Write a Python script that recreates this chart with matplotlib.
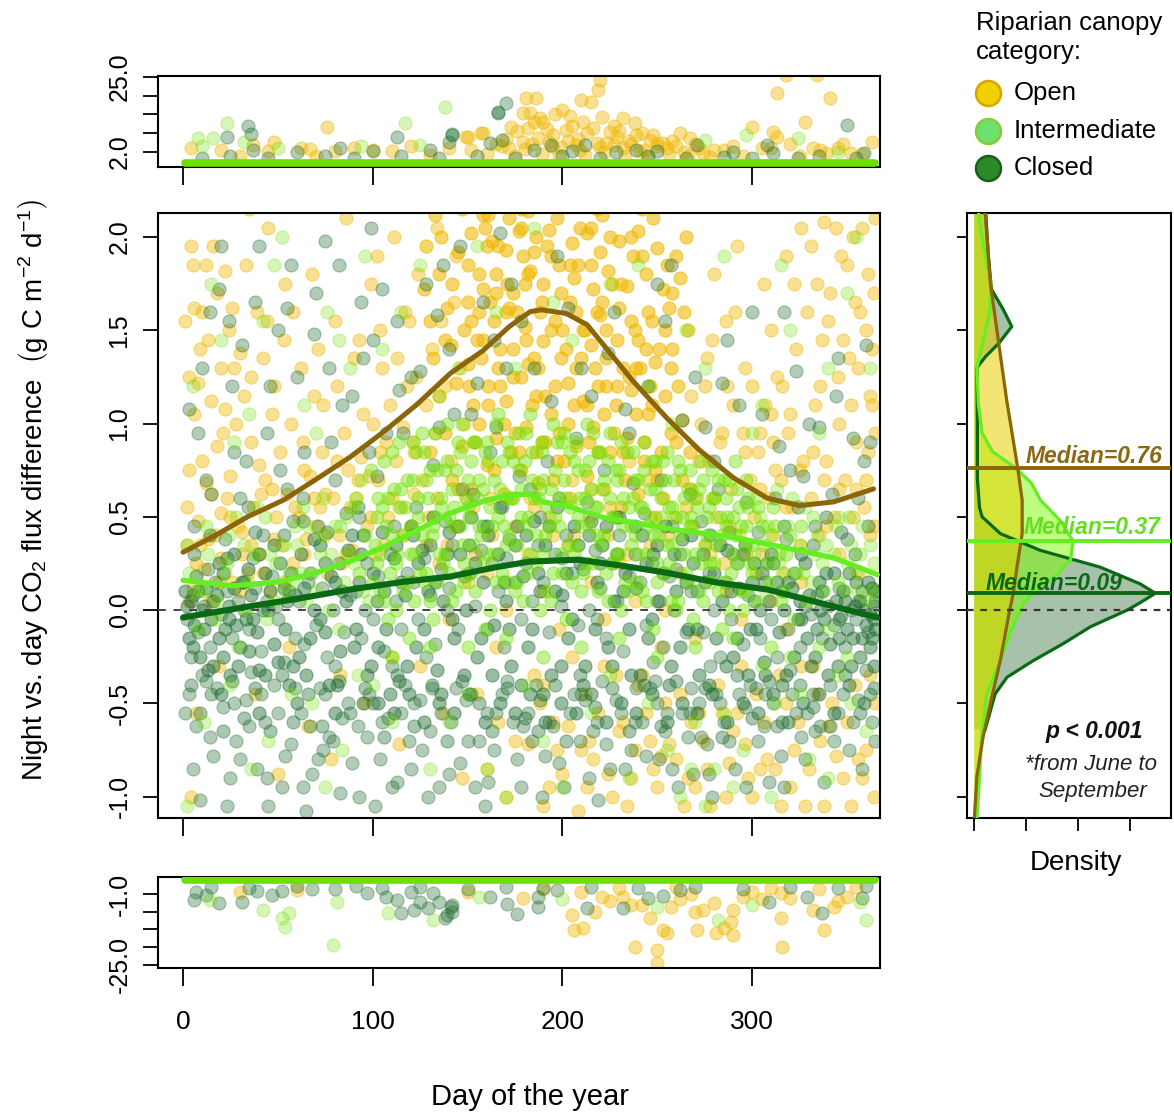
import numpy as np
import matplotlib
matplotlib.use('Agg')
import matplotlib.pyplot as plt
from matplotlib.lines import Line2D

plt.rcParams['font.family'] = ['Liberation Sans', 'DejaVu Sans']
plt.rcParams['mathtext.fontset'] = 'custom'
plt.rcParams['mathtext.rm'] = 'Liberation Sans'
plt.rcParams['mathtext.it'] = 'Liberation Sans:italic'
plt.rcParams['mathtext.bf'] = 'Liberation Sans:bold'

#-------------------------------------------------------------------------------
# data (day of year, flux difference)
closed_pts = [
    (2,-0.05),(5,0.08),(8,-0.12),(11,0.02),(14,-0.2),(17,0.15),(20,-0.02),(23,0.1),(26,-0.15),(29,0.05),(4,-0.25),(13,0.22),
    (3,-0.45),(7,-0.62),(12,-0.38),(16,-0.78),(21,-0.52),(25,-0.9),(28,-0.7),(9,-1.02),(6,0.45),(15,0.62),(22,0.38),(27,0.85),
    (3,1.08),(10,1.3),(19,1.72),(24,1.55),
    (32,0.0),(35,-0.1),(38,0.12),(41,-0.22),(44,0.05),(47,0.18),(50,-0.05),(53,-0.28),(56,0.1),(59,-0.15),(37,0.28),(49,0.02),
    (33,-0.48),(39,-0.85),(43,-0.6),(48,-0.4),(52,-0.95),(57,-0.72),(45,-1.05),(36,-0.33),(34,0.55),(42,0.4),(51,0.75),(58,0.48),
    (31,1.42),(40,1.95),(46,1.2),(55,1.62),
    (61,0.05),(64,-0.18),(67,0.2),(70,-0.08),(73,0.12),(76,-0.25),(79,0.0),(82,0.25),(85,-0.12),(88,0.08),(66,0.15),(80,-0.3),
    (62,-0.55),(68,-0.88),(72,-0.42),(77,-0.68),(83,-0.98),(87,-0.5),(74,-0.75),(65,-1.08),(63,0.6),(71,0.45),(78,0.9),(86,0.52),
    (60,1.25),(69,1.48),(75,1.98),(84,1.1),
    (91,0.1),(94,-0.15),(97,0.25),(100,-0.05),(103,0.18),(106,-0.22),(109,0.3),(112,0.05),(115,-0.1),(118,0.2),(96,0.0),(110,-0.3),
    (92,-0.62),(98,-0.45),(104,-0.8),(108,-0.58),(113,-0.92),(117,-0.4),(101,-1.05),(119,-0.7),(93,0.5),(102,0.72),(111,0.45),(116,0.95),
    (95,1.35),(105,1.72),(114,1.18),(99,2.05),
    (121,0.15),(124,-0.05),(127,0.28),(130,0.08),(133,-0.18),(136,0.22),(139,0.0),(142,0.35),(145,-0.1),(148,0.18),(128,-0.25),(140,0.12),
    (122,-0.5),(126,-0.75),(131,-0.42),(135,-0.95),(141,-0.6),(146,-0.82),(129,-1.0),(149,-0.48),(123,0.55),(132,0.78),(138,0.48),(147,0.65),
    (125,1.28),(134,1.58),(143,1.05),(137,1.85),
    (151,0.2),(154,0.02),(157,0.32),(160,-0.1),(163,0.25),(166,0.1),(169,-0.2),(172,0.38),(175,0.15),(178,-0.05),(158,0.45),(170,0.28),
    (152,-0.45),(156,-0.7),(161,-0.92),(165,-0.55),(171,-0.38),(176,-0.8),(159,-1.05),(179,-0.62),(153,0.62),(162,0.85),(168,0.55),(177,0.72),
    (155,1.22),(164,1.45),(173,1.75),(167,2.02),
    (181,0.25),(184,0.05),(187,0.35),(190,0.15),(193,-0.12),(196,0.3),(199,0.02),(202,0.4),(205,0.2),(208,-0.08),(188,0.5),(200,0.28),
    (182,-0.55),(186,-0.4),(191,-0.78),(195,-0.62),(201,-0.95),(206,-0.45),(189,-1.0),(209,-0.7),(183,0.65),(192,0.8),(198,0.6),(207,0.92),
    (185,1.3),(194,1.12),(203,1.62),(197,1.9),
    (211,0.22),(214,0.0),(217,0.32),(220,0.12),(223,-0.15),(226,0.25),(229,0.05),(232,-0.22),(235,0.18),(238,0.3),(218,-0.05),(230,0.4),
    (212,-0.48),(216,-0.65),(221,-0.38),(225,-0.85),(231,-0.55),(236,-0.75),(219,-1.02),(239,-0.42),(213,0.58),(222,0.75),(228,0.5),(237,0.68),
    (215,1.15),(224,1.38),(233,1.08),(227,1.6),
    (241,0.15),(244,-0.08),(247,0.25),(250,0.05),(253,-0.2),(256,0.18),(259,0.0),(262,0.3),(265,-0.12),(268,0.1),(248,-0.28),(260,0.22),
    (242,-0.6),(246,-0.42),(251,-0.8),(255,-0.55),(261,-0.95),(266,-0.68),(249,-0.38),(269,-0.88),(243,0.52),(252,0.7),(258,0.45),(267,0.62),
    (245,1.2),(254,1.55),(263,1.02),(257,1.85),
    (271,0.1),(274,-0.12),(277,0.2),(280,0.0),(283,-0.25),(286,0.15),(289,-0.05),(292,0.25),(295,-0.18),(298,0.08),(278,-0.3),(290,0.3),
    (272,-0.5),(276,-0.72),(281,-0.45),(285,-0.6),(291,-0.85),(296,-0.52),(279,-1.0),(299,-0.4),(273,0.48),(282,0.65),(288,0.42),(297,0.58),
    (275,0.98),(284,1.22),(293,1.1),(287,1.45),
    (301,0.05),(304,-0.15),(307,0.15),(310,-0.05),(313,-0.25),(316,0.1),(319,-0.1),(322,0.2),(325,-0.2),(328,0.02),(308,0.25),(320,-0.32),
    (302,-0.42),(306,-0.62),(311,-0.5),(315,-0.78),(321,-0.45),(326,-0.68),(309,-0.92),(329,-0.55),(303,0.42),(312,0.6),(318,0.38),(327,0.72),
    (305,1.05),(314,0.88),(323,1.28),(317,1.6),
    (331,-0.02),(334,0.08),(337,-0.15),(340,0.02),(343,-0.08),(346,0.12),(349,-0.2),(352,0.0),(355,-0.05),(358,0.1),(361,-0.12),(364,0.02),
    (362,-0.02),(356,0.05),(347,-0.03),(332,-0.45),(336,-0.62),(341,-0.4),(345,-0.55),(351,-0.75),(356,-0.48),(360,-0.32),(363,-0.6),
    (333,0.45),(342,0.62),(350,0.38),(359,0.8),(335,0.98),(344,1.15),(353,0.92),(360,1.42),
    (1,-0.55),(5,-0.85),(10,-0.35),(14,-0.68),(18,-0.42),(23,-1.05),(27,-0.5),(30,-0.8),(35,-0.62),(41,-0.45),(44,-0.9),(50,-0.55),
    (54,-0.78),(59,-0.42),(63,-0.95),(67,-0.62),(71,-0.8),(75,-0.45),(79,-0.7),(84,-0.58),(89,-0.82),(93,-1.0),(97,-0.68),(100,-0.5),
    (105,-0.6),(110,-0.95),(115,-0.55),(120,-0.85),(125,-0.48),(130,-0.65),(136,-0.55),(140,-0.88),(144,-0.42),(150,-0.7),(154,-0.95),
    (160,-0.55),(164,-0.75),(168,-0.45),(174,-0.6),(178,-0.95),(184,-0.7),(188,-0.48),(193,-0.6),(198,-0.82),(204,-0.55),(210,-0.45),
    (214,-0.9),(218,-0.6),(223,-0.72),(228,-0.48),(233,-0.85),(238,-0.6),(244,-0.78),(250,-0.5),(254,-0.65),(258,-0.85),(263,-0.55),
    (268,-0.42),(273,-0.68),(277,-0.88),(283,-0.5),(288,-0.7),(293,-0.45),(297,-0.95),(303,-0.7),(307,-0.45),(313,-0.62),(317,-0.95),
    (323,-0.55),(328,-0.8),(333,-0.65),(338,-0.92),(343,-0.7),(348,-0.45),(353,-0.6),(358,-0.85),(362,-0.45),(365,-0.7),
    (8,0.95),(14,1.6),(20,1.95),(26,1.2),(33,0.8),(38,1.65),(44,0.95),(50,1.5),(57,1.85),(64,0.85),(70,1.7),(77,1.3),(82,1.85),
    (89,1.15),(94,1.65),(100,1.45),(107,0.95),(113,1.55),(120,1.25),(128,1.75),(135,0.98),(140,1.4),(146,1.95),(152,1.05),(158,1.65),
    (165,0.98),(170,1.3),(178,1.55),(12,0.7),(30,0.6),(55,0.65),(80,0.7),(98,0.85),
    (210,1.3),(235,0.95),(250,1.75),(270,1.25),(300,1.6),(330,1.0),(345,1.35),(362,0.9),(280,0.8),(320,0.75),(356,0.6),
]
closed_core = [
    (1,0.1),(3,-0.15),(4,0.05),(6,-0.08),(7,0.18),(9,-0.25),(10,0.0),(12,0.12),(15,-0.05),(16,-0.3),(18,0.08),(19,-0.15),(21,0.2),
    (22,-0.1),(24,0.02),(25,-0.35),(27,0.12),(28,-0.08),(30,-0.2),(31,0.15),(33,-0.05),(34,0.22),(36,0.08),(39,-0.12),(40,0.3),(42,0.0),
    (43,-0.35),(46,0.1),(48,-0.18),(51,0.25),(54,-0.1),(55,0.05),(57,0.2),(58,-0.3),
    (62,0.3),(65,-0.35),(69,0.0),(72,0.35),(75,-0.12),(78,0.18),(81,-0.4),(84,0.1),(87,0.32),(90,-0.2),(93,0.15),(95,0.4),(99,-0.3),
    (102,0.05),(105,0.42),(107,-0.1),(111,0.28),(114,-0.38),(117,0.08),(120,0.45),(123,-0.2),(126,0.32),(129,0.1),(132,0.5),(134,-0.32),
    (137,0.05),(140,0.42),(143,-0.15),(146,0.3),(149,0.0),(152,0.5),(155,-0.25),(158,0.15),(161,0.4),(164,-0.08),(167,0.55),(170,0.05),
    (173,-0.3),(176,0.45),(179,0.18),(182,-0.2),(185,0.48),(188,0.1),(191,0.35),(194,-0.35),(197,0.55),(200,0.08),(203,-0.15),(206,0.45),
    (209,0.25),(212,-0.3),(215,0.48),(218,0.15),(221,0.35),(224,-0.2),(227,0.05),(230,0.5),(233,0.2),(236,-0.35),(239,0.12),(242,0.4),
    (245,-0.15),(248,0.3),(251,0.05),(254,0.45),(257,-0.3),(260,0.1),(263,0.38),(266,-0.1),(269,0.25),(272,-0.35),(275,0.15),(278,0.4),
    (281,-0.15),(284,0.05),(287,0.32),(290,-0.25),(293,0.12),(296,0.35),(299,-0.1),
    (300,0.15),(302,-0.1),(305,0.2),(306,-0.28),(309,0.05),(311,0.25),(314,-0.12),(317,0.0),(318,-0.35),(321,0.12),(324,-0.05),(326,0.3),
    (329,-0.15),(330,0.08),(333,-0.25),(335,0.15),(338,-0.05),(339,0.2),(341,-0.18),(344,0.05),(345,-0.3),(348,0.1),(350,-0.1),(351,0.2),
    (353,-0.15),(354,0.02),(357,-0.25),(359,0.0),(360,-0.08),(363,0.12),(365,-0.1),(365,0.05),(362,-0.2),(364,-0.05),
    (2,0.02),(5,-0.2),(8,0.1),(11,-0.1),(13,-0.32),(16,0.05),(19,0.25),(21,-0.25),(24,-0.05),(27,0.3),(29,-0.3),(32,0.15),(35,-0.22),
    (37,-0.05),(40,-0.32),(43,0.2),(45,0.0),(48,0.35),(50,-0.28),(53,0.12),(56,-0.4),(59,0.08),(61,-0.25),(64,0.12),(67,-0.15),(69,0.38),
    (72,-0.05),(75,0.25),(77,-0.4),(80,0.15),(83,-0.22),(86,0.05),(89,0.4),(91,-0.1),(94,0.3),(97,-0.35),(100,0.2),(103,-0.2),(106,0.1),
    (109,-0.45),(112,0.35),(115,0.15),(118,-0.3),(121,0.4),(124,0.25),(127,-0.1),(130,0.35),(133,0.15),(136,-0.45),(139,0.3),(142,-0.05),
    (145,0.45),(148,-0.35),(151,0.35),(154,0.25),(157,-0.15),(160,0.45),(163,-0.35),(166,0.3),(169,0.15),(172,-0.1),(175,0.35),(178,-0.4),
    (181,0.4),(184,-0.1),(187,0.2),(190,-0.45),(193,0.45),(196,0.1),(199,-0.3),(202,0.2),(205,-0.05),(208,0.35),(211,-0.4),(214,0.4),
    (217,-0.1),(220,0.25),(223,0.45),(226,-0.3),(229,0.3),(232,0.1),(235,-0.1),(238,0.45),(241,-0.35),(244,0.25),(247,-0.05),(250,0.35),
    (253,0.2),(256,-0.4),(259,0.3),(262,-0.2),(265,0.15),(268,0.4),(271,-0.1),(274,0.3),(277,-0.4),(280,0.2),(283,0.35),(286,-0.3),
    (289,0.1),(292,-0.15),(295,0.3),(298,-0.35),(301,0.25),(304,0.0),(307,-0.35),(310,0.3),(313,0.15),(316,-0.4),(319,0.15),(322,-0.25),
    (325,0.05),(328,0.25),(331,-0.3),(334,-0.1),(337,0.1),(340,-0.35),(343,0.2),(346,-0.15),(349,0.05),(352,-0.3),(355,0.15),(358,-0.15),
    (361,0.15),(364,-0.3),(365,0.1),(363,-0.15),(357,0.05),(346,-0.05),(336,0.0),(326,-0.05),
    (103,-0.5),(111,-0.55),(119,-0.45),(127,-0.6),(135,-0.5),(143,-0.55),(151,-0.45),(159,-0.6),(167,-0.5),(175,-0.55),(183,-0.45),
    (191,-0.6),(199,-0.5),(207,-0.55),(215,-0.45),(223,-0.6),(231,-0.5),(239,-0.55),(247,-0.45),(255,-0.6),(263,-0.5),(271,-0.55),
    (279,-0.45),(287,-0.6),(295,-0.5),(303,-0.55),(311,-0.45),(319,-0.6),(327,-0.5),(335,-0.45),(343,-0.55),(351,-0.4),(359,-0.5),
    (20,-0.45),(40,-0.55),(60,-0.5),(80,-0.55),(95,-0.5),
]
closed_more = [
    (4,-0.4),(9,-0.55),(15,-0.45),(21,-0.65),(26,-0.38),(32,-0.58),(38,-0.42),(46,-0.65),(52,-0.35),(58,-0.6),(66,-0.45),(73,-0.62),
    (82,-0.38),(88,-0.55),(96,-0.42),(106,-0.68),(113,-0.35),(122,-0.62),(131,-0.4),(139,-0.7),(147,-0.38),(156,-0.5),(163,-0.65),
    (171,-0.42),(180,-0.58),(187,-0.65),(196,-0.4),(202,-0.7),(209,-0.35),(217,-0.52),(226,-0.42),(235,-0.65),(243,-0.4),(252,-0.62),
    (260,-0.38),(267,-0.55),(275,-0.42),(284,-0.68),(292,-0.35),(300,-0.58),(309,-0.38),(316,-0.6),(325,-0.4),(332,-0.52),(341,-0.62),
    (349,-0.35),(357,-0.55),(364,-0.42),
    (6,0.3),(14,0.4),(23,0.28),(38,0.42),(53,0.4),(63,0.48),(76,0.42),(92,0.55),(317,0.45),(324,0.55),(332,0.35),(339,0.5),(347,0.42),
    (354,0.3),(361,0.45),
]
open_pts = [
    (2,0.35),(5,0.12),(8,0.48),(11,0.22),(14,0.05),(17,0.4),(20,0.28),(23,0.6),(26,0.15),(29,0.45),(3,1.25),(6,1.62),(9,1.4),(12,1.85),
    (15,1.12),(18,1.7),(21,0.95),(24,1.5),(27,1.3),(4,1.95),(10,0.8),(22,1.08),(7,-0.55),(19,-0.3),(4,-1.0),
    (31,0.42),(34,0.2),(37,0.55),(40,0.3),(43,0.7),(46,0.1),(49,0.5),(52,0.35),(55,0.62),(58,0.25),(32,1.15),(36,0.9),(39,1.6),(42,1.35),
    (45,2.05),(48,1.2),(51,0.85),(54,1.75),(57,1.0),(35,2.15),(38,-0.45),(50,-0.88),(56,-0.2),
    (61,0.5),(64,0.3),(67,0.72),(70,0.45),(73,0.85),(76,0.2),(79,0.6),(82,0.4),(85,0.95),(88,0.55),(62,1.3),(68,1.8),(74,1.1),(80,1.55),
    (86,2.1),(71,1.4),(66,-0.62),(83,-0.35),(78,-0.8),
    (91,0.6),(94,0.82),(97,0.45),(100,1.0),(103,0.7),(106,0.35),(109,1.1),(112,0.8),(115,0.55),(118,1.2),(93,1.45),(99,1.75),(105,1.3),
    (111,2.0),(117,1.6),(102,1.9),(96,-0.5),(110,-0.25),(114,-0.72),
    (121,0.9),(123,1.25),(126,0.7),(128,1.1),(131,1.4),(133,0.95),(136,1.55),(138,1.2),(141,0.8),(143,1.65),(146,1.3),(148,1.0),(124,1.8),
    (134,2.05),(144,1.9),(129,0.5),(139,0.35),(149,0.6),(125,-0.3),(137,-0.55),(147,-0.9),
    (155,-0.45),(165,-0.2),(175,-0.7),(170,-1.0),(153,0.55),(163,0.4),(173,0.6),(183,0.6),(193,0.5),(203,0.35),
    (185,-0.35),(195,-0.6),(200,-0.88),(205,-0.25),(190,-1.05),(210,-0.75),
    (214,0.5),(224,0.4),(234,0.3),(212,-0.45),(216,-0.8),(222,-0.3),(226,-1.0),(232,-0.6),(236,-0.9),(240,-0.4),
    (242,-0.35),(246,-0.7),(250,-0.95),(254,-0.5),(260,-0.8),(264,-1.05),(268,-0.6),(252,-0.2),(259,0.5),(269,0.45),
    (271,0.6),(273,1.0),(275,0.35),(277,0.8),(279,1.45),(281,0.5),(283,0.9),(285,0.25),(287,1.2),(289,0.65),(291,1.6),(293,0.4),(295,0.95),
    (297,0.3),(299,0.7),(280,1.8),(292,1.95),(272,-0.55),(276,-0.85),(282,-0.4),(286,-1.0),(290,-0.65),(294,-0.3),(298,-0.9),
    (301,0.5),(303,0.85),(305,0.3),(307,1.1),(309,0.6),(311,0.4),(313,1.25),(315,0.7),(317,0.2),(319,0.95),(321,0.55),(323,1.4),(325,0.35),
    (327,0.8),(329,1.6),(306,1.75),(318,1.9),(326,2.05),(302,-0.45),(308,-0.8),(314,-0.35),(320,-0.95),(324,-0.6),(328,-1.05),
    (331,0.6),(333,1.1),(335,0.4),(337,1.45),(339,0.8),(341,1.7),(343,0.5),(345,1.25),(347,1.9),(349,0.7),(351,1.35),(353,2.0),(355,0.9),
    (357,1.6),(359,0.55),(361,1.8),(363,1.1),(365,2.1),(338,2.08),(346,0.3),(356,0.2),(362,0.4),(332,-0.3),(336,-0.7),(342,-0.5),(348,-0.9),
    (354,-0.4),(360,-0.75),(364,-1.0),
    (1,1.55),(3,0.75),(5,1.85),(6,1.05),(8,1.22),(10,1.6),(12,0.68),(13,1.45),(16,1.95),(18,0.88),(20,1.3),(22,1.82),(25,0.72),(26,1.62),
    (28,1.0),(30,1.38),(33,1.85),(36,1.25),(40,0.78),(44,1.55),(47,1.05),(53,1.45),(58,1.6),(2,0.55),(9,0.35),(15,0.62),(20,0.52),(31,0.3),
    (41,0.62),(48,0.38),
    (331,1.95),(334,1.75),(336,1.2),(340,1.55),(344,2.05),(348,1.45),(350,1.85),(352,1.1),(354,1.65),(356,1.3),(358,2.05),(360,1.5),
    (362,1.15),(364,1.7),(365,0.95),(346,1.0),(338,0.7),(355,0.65),(361,0.85),(363,1.4),(310,1.5),(316,1.2),(322,1.75),(304,0.95),
    (312,0.75),(320,1.05),(296,1.3),(286,1.55),(276,1.35),(268,1.15),
    (63,0.9),(69,1.15),(75,0.62),(81,1.2),(87,0.75),(90,1.35),(95,1.05),(98,0.72),(104,1.5),(107,0.9),(113,1.35),(116,0.98),(119,1.55),
    (122,0.62),(65,0.38),(72,0.55),(84,0.25),(89,0.32),(101,0.3),(108,0.5),(120,0.45),
    (182,0.3),(190,0.1),(198,-0.1),(206,0.4),(215,0.15),(222,-0.05),(230,0.25),(238,0.05),(246,0.35),(254,0.0),(262,0.2),(270,-0.15),
    (278,0.3),(286,0.1),(294,-0.05),(302,0.2),(310,0.05),(318,-0.1),(326,0.15),(160,0.2),(170,0.0),(150,0.15),(140,-0.05),(135,0.25),
    (182,-0.72),(188,-0.5),(193,-0.95),(203,-0.62),(208,-1.08),(214,-0.7),(219,-0.55),(224,-0.88),(228,-0.35),(234,-1.05),(238,-0.75),
    (244,-0.55),(248,-0.85),(256,-0.72),(262,-0.45),(266,-0.9),(274,-0.7),(278,-1.05),(284,-0.55),(288,-0.82),(296,-0.72),(300,-1.0),
    (306,-0.6),(312,-0.85),(318,-0.5),(322,-0.75),(330,-0.85),(334,-0.45),(338,-1.05),(344,-0.78),(350,-0.6),(352,-1.05),(358,-0.9),
    (362,-0.35),(160,-0.85),(166,-0.6),
    (190,-0.4),(197,-0.75),(213,-0.95),(230,-0.65),(252,-0.78),(270,-0.95),(292,-0.55),(315,-1.05),(340,-0.62),(356,-0.8),(365,-0.5),
    (326,-0.3),(304,-0.85),
]
open_more = [
    (3,0.05),(7,0.25),(13,0.38),(19,0.15),(25,0.5),(30,0.1),(36,0.35),(42,0.2),(47,0.65),(53,0.15),(59,0.55),(64,0.75),(69,0.6),
    (75,0.4),(81,0.8),(86,0.3),(92,0.7),(99,0.5),(104,0.85),(110,0.6),(116,0.4),(122,0.85),(128,0.35),(134,0.6),(144,0.45),(154,0.3),
    (162,0.6),(175,0.45),(185,0.55),(195,0.4),(205,0.7),(215,0.65),(225,0.55),(235,0.8),(245,0.7),(255,0.4),(265,0.55),(272,0.8),
    (280,0.6),(288,0.45),(296,0.85),(304,0.65),(311,0.9),(318,0.55),(325,0.75),(332,0.85),(339,0.45),(346,0.65),(353,0.5),(360,0.7),
    (364,0.45),(300,1.2),(310,1.05),(290,1.1),(284,0.95),(275,1.2),
]
open_summer = [
    (151,1.2),(152,1.55),(154,0.9),(156,1.8),(157,1.35),(159,2.05),(161,1.1),(162,1.65),(164,0.75),(166,1.95),(167,1.4),(169,1.0),(171,1.75),
    (172,2.1),(174,1.25),(176,1.6),(177,0.85),(179,1.9),(158,2.12),(168,2.2),(178,2.15),
    (181,1.45),(182,1.8),(184,1.1),(186,2.0),(187,1.3),(189,1.65),(191,0.9),(192,1.95),(194,1.5),(196,1.2),(197,2.1),(199,1.7),(201,0.8),
    (202,1.4),(204,1.85),(206,1.1),(207,1.6),(209,2.05),(188,2.2),(198,2.18),(208,2.22),
    (211,1.5),(213,1.1),(215,1.85),(217,1.3),(219,0.85),(221,1.65),(223,1.2),(225,2.0),(227,0.95),(229,1.45),(231,1.75),(233,0.7),(235,1.25),
    (237,1.9),(239,1.05),(218,2.15),(228,2.2),
    (241,1.3),(243,0.9),(245,1.6),(247,1.1),(249,0.75),(251,1.4),(253,0.6),(255,1.85),(257,0.95),(261,1.2),(263,0.7),(265,2.0),
    (267,0.85),(248,2.1),(258,1.7),
    (126,2.18),(133,2.12),(140,2.2),(147,2.15),(154,2.18),(161,2.12),(175,2.2),(182,2.14),(191,2.2),(201,2.16),(211,2.2),(221,2.12),
    (233,2.18),(242,2.15),(251,2.2),
    (128,1.95),(136,2.0),(145,1.92),(152,2.02),(163,1.98),(170,1.93),(177,2.03),(185,1.92),(193,2.04),(205,1.97),(213,2.02),(220,1.92),
    (230,1.98),(240,2.03),(250,1.94),(260,1.9),
    (127,1.72),(135,1.8),(142,1.75),(150,1.85),(158,1.72),(165,1.8),(174,1.7),(183,1.82),(190,1.75),(198,1.85),(206,1.78),(216,1.72),
    (224,1.82),(234,1.74),(244,1.8),(253,1.72),(262,1.78),
    (130,1.55),(139,1.62),(148,1.5),(156,1.6),(164,1.55),(172,1.62),(180,1.52),(188,1.6),(196,1.55),(204,1.65),(212,1.5),(220,1.58),
    (230,1.62),(238,1.5),(247,1.55),(256,1.62),(266,1.5),
    (132,1.35),(141,1.42),(150,1.32),(158,1.45),(166,1.3),(174,1.4),(182,1.32),(190,1.44),(199,1.35),(207,1.3),(215,1.42),(223,1.35),
    (232,1.3),(240,1.45),(249,1.33),(258,1.4),
    (135,1.15),(144,1.22),(153,1.1),(161,1.2),(170,1.12),(178,1.25),(186,1.15),(194,1.05),(203,1.22),(211,1.12),(219,1.2),(228,1.1),
    (236,1.18),(245,1.05),(254,1.15),(263,1.02),
    (138,0.95),(147,0.88),(156,1.0),(165,0.92),(173,0.85),(181,0.98),(189,0.9),(198,0.95),(207,0.88),(216,0.98),(225,0.85),(234,0.92),
    (243,0.8),(252,0.85),
    (142,0.7),(152,0.65),(160,0.78),(169,0.62),(178,0.75),(187,0.68),(195,0.7),(204,0.6),(213,0.72),(222,0.65),(231,0.55),(240,0.62),(249,0.5),
    (130,0.85),(138,1.45),(145,0.65),(155,1.45),(160,1.95),(167,1.2),(170,1.6),(175,0.95),(180,1.75),(185,1.35),(191,1.15),(194,1.9),
    (197,0.8),(200,1.5),(203,1.0),(208,1.85),(210,1.35),(214,0.9),(218,1.6),(222,1.05),(226,1.75),(229,1.2),(232,0.85),(236,1.55),
    (239,1.3),(242,1.9),(246,1.2),(250,0.7),(254,1.5),(257,1.3),(260,0.9),(264,1.6),(268,0.65),(150,1.65),(165,1.7),(178,2.05),(186,0.85),
    (215,2.05),(223,1.5),(236,2.0),(244,1.4),
]
inter_pts = [
    (3,0.2),(8,-0.1),(13,0.3),(18,0.05),(24,0.4),(29,-0.2),(34,0.15),(39,0.55),(44,-0.05),(49,0.25),(54,0.1),(59,0.45),
    (5,1.2),(15,1.75),(27,0.9),(42,1.55),(52,2.0),(11,-0.6),(36,-0.85),(57,-0.45),(2,-1.05),
    (62,0.2),(66,0.45),(70,0.1),(74,0.6),(78,0.3),(82,-0.1),(86,0.5),(90,0.25),(94,0.7),(98,0.05),
    (64,1.1),(76,1.6),(88,1.3),(96,1.9),(68,-0.5),(84,-0.75),(92,-0.35),
    (105,1.4),(125,1.85),(145,1.3),(165,1.6),(185,2.05),(205,1.45),(225,1.75),(245,1.2),(265,1.5),(285,1.9),(110,-0.6),(130,-0.85),
    (150,-0.45),(170,-1.0),(190,-0.7),(215,-0.55),(235,-0.9),(255,-0.75),(262,-1.0),(270,-0.6),(280,-0.85),(290,-0.95),(275,-1.05),
    (301,0.3),(304,0.5),(307,0.1),(310,0.4),(313,0.65),(316,0.2),(319,0.45),(322,-0.05),(325,0.35),(328,0.55),(331,0.15),(334,0.4),
    (337,0.25),(340,-0.1),(343,0.3),(346,0.5),(349,0.1),(352,0.35),(355,0.2),(358,0.45),(361,0.05),(364,0.25),
    (305,1.1),(320,1.5),(335,0.95),(350,1.7),(362,1.3),(312,-0.5),(330,-0.8),(345,-0.35),(360,-0.65),
    (60,0.35),(65,0.05),(72,0.3),(80,0.45),(85,0.15),(11,0.1),(22,0.2),(32,0.35),(46,0.3),(56,0.2),(333,0.3),(338,0.1),(344,0.45),
    (350,0.25),(356,0.1),(362,0.35),
    (20,1.45),(35,1.05),(48,1.85),(70,0.95),(82,1.45),(115,1.6),(135,1.15),(155,1.95),(175,1.3),(195,1.65),(240,1.85),(258,1.0),
    (275,1.3),(300,0.95),(315,1.85),(340,1.3),(355,2.0),(25,-0.4),(45,-0.7),(75,-0.95),(100,-0.4),(140,-0.6),(160,-0.85),(180,-0.4),
    (200,-0.95),(225,-0.35),(245,-0.5),(268,-0.85),(285,-0.55),(295,-0.75),(310,-1.0),(325,-0.45),(340,-0.9),(352,-0.5),
]
inter_more = [
    (2,0.35),(7,0.1),(12,0.45),(17,-0.05),(23,0.25),(28,0.5),(33,0.0),(38,0.3),(43,0.5),(48,0.05),(53,0.35),(58,0.15),(63,0.55),
    (68,0.2),(73,0.4),(77,0.0),(83,0.45),(87,0.3),(91,0.6),(95,0.1),(302,0.6),(308,0.45),(314,0.25),(321,0.6),(327,0.2),(332,0.5),
    (339,0.35),(345,0.15),(351,0.5),(357,0.3),(363,0.1),(305,-0.3),(320,-0.25),(335,-0.2),(350,-0.25),
]
inter_core = [
    (101,0.35),(103,0.6),(104,0.1),(106,0.8),(107,0.45),(109,0.2),(111,0.65),(112,0.0),(114,0.9),(116,0.4),(117,0.55),(119,-0.15),
    (121,0.7),(122,0.3),(124,0.5),(126,0.95),(127,0.15),(129,0.6),(131,0.4),(132,-0.05),(134,0.75),(136,0.55),(137,0.25),(139,1.0),
    (141,0.45),(142,0.65),(144,0.1),(146,0.85),(147,0.35),(149,0.6),(151,0.5),(152,0.2),(154,0.9),(156,0.7),(157,0.4),(159,-0.1),
    (161,0.8),(162,0.55),(164,0.3),(166,1.05),(167,0.65),(169,0.45),(171,0.15),(172,0.85),(174,0.6),(176,0.35),(177,0.75),(179,0.05),
    (181,0.95),(182,0.5),(184,0.7),(186,0.25),(187,0.6),(189,0.85),(191,0.4),(192,0.1),(194,0.65),(196,0.5),(197,0.9),(199,0.3),
    (201,0.7),(202,-0.05),(204,0.55),(206,0.8),(207,0.35),(209,0.6),(211,0.2),(212,0.75),(214,0.45),(216,0.95),(217,0.55),(219,0.1),
    (221,0.65),(222,0.4),(224,0.8),(226,0.25),(227,0.5),(229,0.7),(231,0.0),(232,0.45),(234,0.85),(236,0.35),(237,0.6),(239,0.15),
    (241,0.55),(243,0.75),(244,0.3),(246,0.5),(248,-0.1),(249,0.65),(251,0.4),(253,0.8),(254,0.2),(256,0.55),(258,0.35),(259,0.7),
    (261,0.05),(263,0.5),(264,0.3),(266,0.65),(268,0.45),(269,-0.05),(271,0.55),(273,0.25),(274,0.7),(276,0.4),(278,0.15),(279,0.6),
    (281,0.35),(283,0.5),(284,-0.1),(286,0.45),(288,0.7),(289,0.2),(291,0.4),(293,0.55),(294,0.1),(296,0.35),(298,0.6),(299,0.25),
    (90,0.55),(93,0.2),(96,0.4),(99,0.75),(102,0.25),(105,0.55),(108,-0.05),(110,0.85),(113,0.3),(115,0.65),(118,0.15),(120,0.45),
    (123,0.85),(125,0.2),(128,0.7),(130,0.05),(133,0.5),(135,0.3),(138,0.75),(140,0.2),(143,0.55),(145,0.9),(148,0.15),(150,0.7),
    (153,0.35),(155,0.6),(158,0.25),(160,0.9),(163,0.45),(165,0.15),(168,0.8),(170,0.35),(173,0.6),(175,0.1),(178,0.5),(180,0.8),
    (183,0.3),(185,0.6),(188,0.0),(190,0.7),(193,0.45),(195,0.2),(198,0.6),(200,0.9),(203,0.35),(205,0.15),(208,0.75),(210,0.45),
    (213,0.25),(215,0.65),(218,0.4),(220,0.85),(223,0.2),(225,0.6),(228,0.3),(230,0.75),(233,0.15),(235,0.55),(238,0.4),(240,0.7),
    (242,0.1),(245,0.45),(247,0.8),(250,0.25),(252,0.6),(255,0.35),(257,0.05),(260,0.5),(262,0.75),(265,0.2),(267,0.45),(270,0.6),
    (272,0.1),(275,0.35),(277,0.55),(280,0.25),(282,0.7),(285,0.15),(287,0.5),(290,0.3),(292,0.65),(295,0.0),(297,0.45),(300,0.2),
    (303,0.55),(306,0.35),(309,0.15),(312,0.45),(315,0.05),(318,0.3),
    (100,0.15),(102,0.5),(104,0.3),(106,0.05),(108,0.6),(110,0.4),(112,0.25),(114,0.55),(116,0.1),(118,0.7),(120,0.3),(122,0.05),
    (124,0.6),(126,0.4),(128,0.2),(130,0.75),(132,0.45),(134,0.15),(136,0.6),(138,0.3),(140,0.5),(142,0.05),(144,0.75),(146,0.45),
    (148,0.25),(150,0.55),(152,0.8),(154,0.1),(156,0.45),(158,0.65),(160,0.3),(162,0.0),(164,0.7),(166,0.5),(168,0.2),(170,0.6),
    (172,0.4),(174,0.8),(176,0.15),(178,0.65),(180,0.45),(182,0.2),(184,0.85),(186,0.4),(188,0.65),(190,0.3),(192,0.55),(194,0.05),
    (196,0.75),(198,0.45),(200,0.2),(202,0.6),(204,0.85),(206,0.3),(208,0.5),(210,0.1),(212,0.6),(214,0.8),(216,0.25),(218,0.55),
    (220,0.35),(222,0.7),(224,0.05),(226,0.5),(228,0.75),(230,0.3),(232,0.6),(234,0.1),(236,0.45),(238,0.7),(240,0.3),(242,0.55),
    (244,0.05),(246,0.65),(248,0.4),(250,0.15),(252,0.5),(254,0.7),(256,0.25),(258,0.55),(260,0.0),(262,0.4),(264,0.6),(266,0.15),
    (268,0.5),(270,0.3),(272,0.65),(274,0.05),(276,0.5),(278,0.25),(280,0.6),(282,0.1),(284,0.4),(286,0.6),(288,0.0),(290,0.5),
    (292,0.25),(294,0.45),(296,0.1),(298,0.55),(300,0.35),(302,0.05),(305,0.45),(308,0.25),(311,0.55),(314,0.3),(317,0.1),(320,0.4),
    (323,0.2),(326,0.45),(329,0.05),(150,-0.2),(170,-0.15),(190,-0.25),(210,-0.2),(230,-0.15),(250,-0.25),(270,-0.2),(290,-0.15),
    (130,-0.2),(110,-0.25),(310,-0.2),
    (121,0.9),(127,0.85),(133,0.95),(139,0.8),(147,1.0),(153,0.9),(159,0.85),(165,1.0),(171,0.9),(177,0.95),(183,1.05),(189,0.9),
    (195,1.0),(201,0.95),(207,0.9),(213,1.0),(219,0.85),(225,0.95),(231,0.9),(237,0.85),(243,0.9),(249,0.8),(255,0.85),(261,0.8),
    (267,0.75),(273,0.8),(279,0.75),(285,0.7),(291,0.8),(297,0.7),
]

# smoothed seasonal curves
open_curve_day = [0,17,34,53,70,88,105,123,141,158,172,183,189,202,213,225,237,255,272,290,308,325,343,364]
open_curve_val = [0.31,0.40,0.50,0.59,0.70,0.82,0.95,1.10,1.27,1.39,1.52,1.60,1.61,1.59,1.53,1.38,1.23,1.03,0.86,0.71,0.60,0.56,0.58,0.65]
inter_curve_day = [0,26,50,70,88,106,124,141,160,175,183,190,205,220,237,260,290,315,343,366]
inter_curve_val = [0.16,0.13,0.15,0.20,0.26,0.34,0.43,0.52,0.59,0.62,0.62,0.58,0.55,0.50,0.47,0.43,0.39,0.34,0.28,0.19]
closed_curve_day = [0,35,60,88,115,141,165,183,208,230,255,280,308,335,366]
closed_curve_val = [-0.04,0.02,0.06,0.11,0.15,0.18,0.23,0.26,0.27,0.24,0.20,0.15,0.11,0.04,-0.04]

# out-of-range points (top: large positive, bottom: large negative), panel units
top_open = [(4,0.21),(76,1.33),(48,0.53),(62,0.21),(157,1.0),(150,0.8),(37,0.37),(67,0.16),(220,3.84),(219,3.3),(210,2.77),
    (215,2.67),(181,2.88),(186,2.88),(179,2.08),(183,2.08),(188,1.81),(173,1.33),(190,1.6),(200,2.24),(221,1.87),(232,1.81),
    (238,1.55),(211,1.6),(202,1.17),(216,1.28),(225,1.07),(229,0.8),(239,0.91),(246,0.64),(262,1.01),(267,0.75),(253,0.48),
    (158,1.01),(149,0.8),(187,0.75),(193,0.53),(199,0.27),(179,0.53),(172,0.21),(207,0.37),(220,0.27),(232,0.21),(243,0.11),
    (264,0.0),(274,-0.05),(313,3.15),(341,2.88),(334,4.1),(318,4.1),(328,1.6),(300,1.33),(311,1.07),(363,0.53),(313,0.8),
    (332,0.21),(352,-0.05),(339,-0.05),(176,1.1),(182,1.3),(195,0.9),(205,1.4),(208,0.7),(213,1.0),(227,1.4),(235,0.6),
    (242,1.0),(250,0.3),(258,0.6),(170,0.7),(165,0.4),(196,2.0),(204,1.9),(185,1.6),(192,1.2),(223,0.5),(230,1.1),(248,0.9),
    (255,0.2),(270,0.4),(280,0.1),(290,0.3),(305,0.2),(320,0.4),(345,0.2),(100,0.1),(120,0.3),(140,0.2),(20,0.1),(90,0.2),(110,0.05),
    (152,0.1),(160,-0.1),(168,0.3),(175,-0.2),(180,0.15),(184,0.45),(189,-0.1),(195,0.25),(198,-0.2),(203,0.6),(209,0.1),(212,-0.15),
    (218,0.5),(222,0.0),(227,0.35),(233,-0.2),(236,0.45),(241,0.05),(245,-0.25),(250,0.5),(256,-0.1),(260,0.3),(266,-0.2),(272,0.2),
    (278,-0.25),(285,0.1),(295,-0.2),(310,0.2),(325,-0.2),(336,0.1),(348,0.4),(358,-0.1),(30,-0.2),(45,0.05),(70,-0.2),(80,0.05),(130,-0.15)]
top_closed = [(34,1.39),(36,0.96),(23,0.8),(113,0.8),(142,0.96),(140,0.53),(166,2.08),(83,0.21),(37,0.11),(170,2.61),(166,2.13),
    (350,1.44),(308,0.37),(359,-0.05),(194,0.37),(212,0.37),(239,0.11),(271,0.37),(162,0.48),(168,0.64),(142,0.91),(311,-0.05),
    (324,-0.32),(60,0.0),(100,0.05),(130,0.1),(250,0.05),(290,0.0),
    (10,-0.3),(25,-0.2),(45,-0.3),(75,-0.2),(90,-0.3),(115,-0.2),(135,-0.3),(155,-0.2),(175,-0.3),(200,-0.2),(220,-0.3),(245,-0.2),
    (265,-0.3),(285,-0.25),(300,-0.3),(335,-0.2),(355,-0.3),(185,0.1),(228,0.0),(205,0.05)]
top_inter = [(23,1.55),(8,0.75),(138,2.4),(117,1.55),(16,0.75),(32,0.53),(94,0.32),(125,0.37),(297,0.91),(324,0.75),(345,0.0),
    (275,0.64),(50,0.2),(10,0.3)]
bot_closed = [(7,0.11),(6,-0.34),(12,-0.06),(19,-0.51),(31,-0.45),(39,0.17),(47,-0.06),(52,0.17),(68,0.28),(91,0.45),(97,0.06),
    (107,-0.17),(113,-0.34),(115,-1.07),(122,-0.9),(129,-0.79),(125,-0.45),(135,-0.45),(141,-0.73),(139,-1.19),(138,-1.36),
    (142,-1.02),(132,0.06),(120,0.11),(142,-0.62),(162,-0.17),(171,-0.56),(176,-1.13),(187,-0.17),(187,-0.73),(197,0.23),
    (213,-0.79),(232,-0.79),(253,-0.11),(245,-0.23),(262,0.23),(309,-0.45),(329,-0.17),(337,-1.07),(358,-0.23),
    (15,0.4),(35,0.35),(60,0.45),(80,0.3),(105,0.35),(125,0.4),(150,0.3),(170,0.4),(190,0.35),(215,0.4),(240,0.35),(270,0.4),
    (295,0.3),(320,0.4),(345,0.35),(360,0.45)]
bot_open = [(205,-1.19),(206,-2.03),(211,-1.92),(217,-1.02),(238,-2.99),(250,-3.16),(250,-3.9),(242,-0.62),(246,-1.36),
    (253,-2.03),(255,-2.2),(257,-0.73),(270,-1.02),(274,-0.9),(271,-2.03),(281,-2.2),(285,-1.92),(290,-2.32),(289,-1.58),
    (290,-0.9),(315,-1.36),(316,-2.99),(338,-2.03),(332,-0.9),(343,-0.73),(350,-0.17),(295,-0.17),(179,-0.23),(232,-0.17),
    (221,-0.17),(300,0.11),(225,-0.4),(236,-0.6),(262,-0.3),(280,-0.5),(305,-0.3),(320,-0.2),(345,-0.4),(30,0.1),(60,0.2),(150,0.1),
    (190,0.3),(230,0.35),(260,0.4),(310,0.35),(335,0.3),(355,0.4),(210,0.1),(268,0.0),(315,0.05)]
bot_inter = [(42,-0.9),(52,-1.36),(54,-1.86),(56,-1.07),(81,-0.45),(79,-2.88),(14,-0.34),(108,-1.07),(132,-1.47),(282,-1.47),
    (360,-1.47),(357,-0.45),(156,-0.17),(250,-0.73),(300,-0.6),(200,-0.3)]
band_day = [1, 365]
top_band = [-0.6, -0.6]
bot_band = [0.78, 0.78]

# density curves (June to September)
open_dens_val = [2.3,2.13,1.75,1.49,1.13,0.77,0.59,0.41,0.23,0.09,0.0,-0.27,-0.5,-0.68,-0.89,-1.12]
open_dens = [0.19,0.21,0.31,0.44,0.62,0.83,0.92,0.92,0.82,0.75,0.68,0.50,0.31,0.17,0.05,0.0]
inter_dens_val = [2.3,2.13,2.0,1.75,1.6,1.45,1.3,1.1,0.95,0.85,0.76,0.68,0.59,0.48,0.37,0.27,0.18,0.12,0.04,-0.1,-0.27,-0.45,-0.68,-0.9,-1.12]
inter_dens = [0.05,0.08,0.15,0.32,0.30,0.18,0.05,0.08,0.15,0.35,0.80,1.10,1.27,1.65,1.90,1.85,1.55,1.27,0.95,0.72,0.50,0.24,0.14,0.10,0.05]
closed_dens_val = [2.3,2.13,1.9,1.72,1.61,1.52,1.43,1.36,1.3,1.0,0.7,0.55,0.5,0.41,0.32,0.23,0.14,0.09,0.04,0.0,-0.09,-0.18,-0.27,-0.36,-0.45,-0.54,-0.64]
closed_dens = [0.2,0.22,0.27,0.33,0.56,0.72,0.47,0.22,0.05,0.06,0.06,0.10,0.15,0.50,1.27,2.42,3.19,3.48,3.19,2.94,2.23,1.71,1.14,0.63,0.40,0.31,0.21]
medians = [0.76, 0.37, 0.09]

#-------------------------------------------------------------------------------
c_open, c_inter, c_closed = '#F0B800', '#6FE000', '#1E6B30'
l_open, l_inter, l_closed = '#8B6508', '#66EE22', '#0A6A14'

W, H = 1174, 1114
fig = plt.figure(figsize=(W/100, H/100), dpi=100)
def box(l, t, r, b):
    return [l/W, 1-b/H, (r-l)/W, (b-t)/H]

ax = fig.add_axes(box(158, 213, 880, 818))
axt = fig.add_axes(box(158, 76, 880, 167))
axb = fig.add_axes(box(158, 877, 880, 968))
axd = fig.add_axes(box(967, 213, 1171, 818))

def pts(a, c, alpha, target):
    a = np.array(a)
    target.scatter(a[:,0], a[:,1], s=88, color=c, alpha=alpha, edgecolors=c, linewidths=0.9, zorder=2)

# sparse points pale, dense clouds stronger
pts(open_pts, c_open, 0.42, ax)
pts(open_more, c_open, 0.45, ax)
pts(open_summer, c_open, 0.58, ax)
pts(closed_pts, c_closed, 0.34, ax)
pts(closed_more, c_closed, 0.38, ax)
pts(closed_core, c_closed, 0.45, ax)
pts(inter_pts, c_inter, 0.28, ax)
pts(inter_more, c_inter, 0.32, ax)
pts(inter_core, c_inter, 0.42, ax)
for a_, lst in [(axt, [top_open, top_closed, top_inter]), (axb, [bot_open, bot_closed, bot_inter])]:
    pts(lst[0], c_open, 0.42, a_)
    pts(lst[1], c_closed, 0.34, a_)
    pts(lst[2], c_inter, 0.28, a_)

axt.plot(band_day, top_band, color='#6EE000', lw=5.5, solid_capstyle='round', zorder=3)
axb.plot(band_day, bot_band, color='#6EE000', lw=5.5, solid_capstyle='round', zorder=3)

ax.axhline(0, color='#444444', lw=1.4, ls=(0, (4, 4)), zorder=3)
ax.plot(open_curve_day, open_curve_val, color=l_open, lw=3.6, zorder=4, solid_capstyle='round')
ax.plot(inter_curve_day, inter_curve_val, color=l_inter, lw=3.8, zorder=4, solid_capstyle='round')
ax.plot(closed_curve_day, closed_curve_val, color=l_closed, lw=4.4, zorder=4, solid_capstyle='round')

for a_ in [ax, axt, axb]:
    a_.set_xlim(-13.2, 367.4)
    a_.set_xticks([0, 100, 200, 300])
    a_.tick_params(axis='x', length=13, width=1.3, labelsize=19, pad=17)
    a_.tick_params(axis='y', length=11, width=1.3, labelsize=18, pad=8)
    for s in a_.spines.values():
        s.set_linewidth(1.5)
ax.set_xticklabels([])
axt.set_xticklabels([])

ax.set_ylim(-1.115, 2.129)
ax.set_yticks([-1, -0.5, 0, 0.5, 1, 1.5, 2])
ax.set_yticklabels(['-1.0', '-0.5', '0.0', '0.5', '1.0', '1.5', '2.0'])
axt.set_ylim(-0.8, 4.05)
axt.set_yticks([0, 1, 2, 3, 4])
axt.set_yticklabels(['2.0', '', '', '', '25.0'])
axb.set_ylim(-4.18, 0.96)
axb.set_yticks([0, -1, -2, -3, -4])
axb.set_yticklabels(['-1.0', '', '', '', '-25.0'])
for a_ in [ax, axt, axb]:
    plt.setp(a_.get_yticklabels(), rotation=90, va='center')

# density panel
for dv, dx, fc, fa, lc, shut in [(closed_dens_val, closed_dens, '#1B5E20', 0.38, l_closed, False),
                                 (inter_dens_val, inter_dens, '#7CFC00', 0.5, l_inter, False),
                                 (open_dens_val, open_dens, '#E8D000', 0.55, l_open, True)]:
    xx = np.concatenate(([0], dx, [0]))
    yy = np.concatenate(([dv[0]], dv, [dv[-1]]))
    axd.fill(xx, yy, facecolor=fc, alpha=fa, edgecolor='none', zorder=2)
    if shut:
        axd.plot(xx, yy, color=lc, lw=2.3, zorder=3)
    else:
        axd.plot(dx, dv, color=lc, lw=2.3, zorder=3)

axd.axhline(0, color='#333333', lw=1.6, ls=(0, (3, 3)), zorder=4)
for m, lc in zip(medians, [l_open, l_inter, l_closed]):
    axd.axhline(m, color=lc, lw=2.8, zorder=5)
tfont = dict(fontsize=16.5, fontweight='bold', style='italic', zorder=6)
axd.text(3.62, 0.79, 'Median=%.2f' % medians[0], ha='right', va='baseline', color='#8B6914', **tfont)
axd.text(3.57, 0.41, 'Median=%.2f' % medians[1], ha='right', va='baseline', color='#66DD22', **tfont)
axd.text(0.21, 0.105, 'Median=%.2f' % medians[2], ha='left', va='baseline', color='#0A6A14', **tfont)
axd.text(2.31, -0.65, 'p < 0.001', ha='center', va='center', fontsize=16.5, fontweight='bold', style='italic', color='#111111')
axd.text(2.25, -0.83, '*from June to', ha='center', va='center', fontsize=16, style='italic', color='#222222')
axd.text(2.27, -0.975, 'September', ha='center', va='center', fontsize=16, style='italic', color='#222222')

axd.set_ylim(-1.115, 2.129)
axd.set_xlim(-0.14, 3.78)
axd.set_xticks([0, 1, 2, 3])
axd.set_xticklabels([])
axd.set_yticks([-1, -0.5, 0, 0.5, 1, 1.5, 2])
axd.set_yticklabels([])
axd.tick_params(axis='x', length=9.5, width=1.3)
axd.tick_params(axis='y', length=7, width=1.3)
for s in axd.spines.values():
    s.set_linewidth(1.5)

# labels
fig.text(530/W, 1-1097/H, 'Day of the year', ha='center', va='center', fontsize=21)
fig.text(33/W, 1-490/H, r'Night vs. day CO$_2$ flux difference  $\left(\mathrm{g\ C\ m^{-2}\ d^{-1}}\right)$',
         ha='center', va='center', rotation=90, fontsize=20)
fig.text(1076/W, 1-863/H, 'Density', ha='center', va='center', fontsize=20)

# legend
fig.text(976/W, 1-23/H, 'Riparian canopy', ha='left', va='center', fontsize=18.5)
fig.text(976/W, 1-52/H, 'category:', ha='left', va='center', fontsize=18.5)
leg = [('Open', '#F2D000', '#D4A800', 93), ('Intermediate', '#6EE06E', '#88CC33', 131), ('Closed', '#2A8A2A', '#1A5E1A', 168)]
for name, fc, ec, yy in leg:
    fig.add_artist(Line2D([988/W], [1-yy/H], marker='o', markersize=18, markerfacecolor=fc, markeredgecolor=ec,
                          markeredgewidth=1.8, transform=fig.transFigure))
    fig.text(1014/W, 1-yy/H, name, ha='left', va='center', fontsize=18.5)

plt.savefig('out.png', dpi=100)
